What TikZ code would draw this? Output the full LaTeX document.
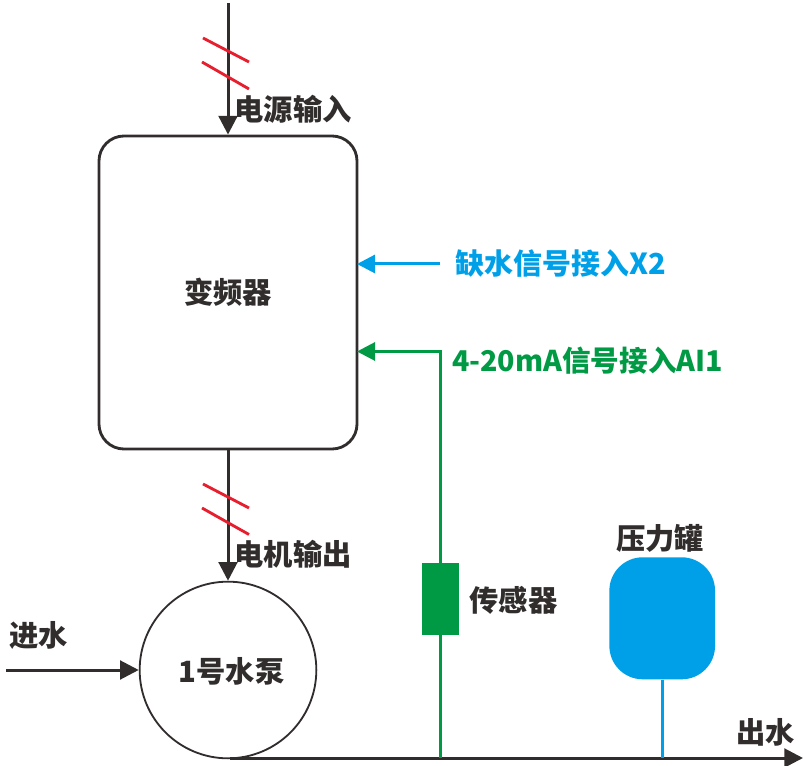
\documentclass[tikz,border=0pt]{standalone}
\usepackage{fontspec}
\setmainfont{Noto Sans CJK SC}
\usetikzlibrary{arrows.meta}

\definecolor{darkline}{RGB}{50,45,45}
\definecolor{sigblue}{RGB}{0,160,233}
\definecolor{siggreen}{RGB}{0,153,68}
\definecolor{slashred}{RGB}{230,30,45}

\tikzset{
  pipe/.style={draw=darkline,line width=0.09cm,-{Triangle[length=0.56cm,width=0.56cm]}},
  slash/.style={draw=slashred,line width=0.085cm},
  lab/.style={font=\fontsize{25}{25}\selectfont\bfseries,text=darkline,inner sep=0pt}
}

\begin{document}
\begin{tikzpicture}[x=0.03cm,y=-0.03cm]

\useasboundingbox (0,0) rectangle (803,766);

% -------- main blocks -----------
\node [draw=darkline,line width=0.085cm,rounded corners=0.75cm,minimum width=7.74cm,minimum height=9.39cm,lab] (inverter) at (228,292.5) {变频器};
\node [circle,draw=darkline,line width=0.055cm,minimum size=5.3cm,inner sep=0pt] (pump) at (228,670) {};
\node [lab] (pumplab) at (231.5,671) {1号水泵};
\node [fill=siggreen,minimum width=1.11cm,minimum height=2.15cm,inner sep=0pt] (sensor) at (440.2,599.2) {};
\node [fill=sigblue,rounded corners=1cm,minimum width=3.17cm,minimum height=3.66cm,inner sep=0pt] (tank) at (662.2,618.3) {};

\coordinate (powerin) at (228,3);
\coordinate (waterin) at (6,670);
\coordinate (outstart) at (230,758);
\coordinate (outend) at (803,758);
\coordinate (bluestart) at (440,264);
\coordinate (blueend) at (357,264);
\coordinate (greencorner) at (440.5,351.5);
\coordinate (greenend) at (357,351.5);
\coordinate (greenfoot) at (440.5,758);
\coordinate (tankfoot) at (662.2,758);

% -------- connectors -----------
\draw [pipe] (powerin) -- (inverter.north -| powerin);
\draw [pipe] (inverter.south) -- (pump.north);
\draw [pipe] (waterin) -- (pump.west |- waterin);
\draw [pipe] (outstart) -- (outend);

\draw [draw=sigblue,line width=0.09cm,-{Triangle[length=0.54cm,width=0.54cm]}] (bluestart) -- (blueend);
\draw [draw=siggreen,line width=0.09cm,-{Triangle[length=0.54cm,width=0.54cm]}] (sensor.north -| greencorner) -- (greencorner) -- (greenend);
\draw [draw=siggreen,line width=0.09cm] (sensor.south -| greenfoot) -- (greenfoot);
\draw [draw=sigblue,line width=0.09cm] (tank.south) -- (tankfoot);

% -------- three-phase slashes -----------
\draw [slash] (203,38) -- (249,62);
\draw [slash] (202,62) -- (249,89);
\draw [slash] (203,484) -- (249,508);
\draw [slash] (202,508) -- (249,534.5);

% -------- labels -----------
\node [lab] (powerlab) at (293,109) {电源输入};
\node [lab] (motorlab) at (293,554) {电机输出};
\node [lab] (inlab) at (38.5,635) {进水};
\node [lab] (outlab) at (765.5,732) {出水};
\node [lab] (sensorlab) at (513.5,600) {传感器};
\node [lab] (tanklab) at (660,538) {压力罐};
\node [lab,text=sigblue,font=\fontsize{24.7}{25}\selectfont\bfseries] (bluelab) at (561,263) {缺水信号接入X2};
\node [lab,text=siggreen,font=\fontsize{24.4}{25}\selectfont\bfseries] (greenlab) at (587.5,360.5) {4-20mA信号接入AI1};

\end{tikzpicture}
\end{document}
